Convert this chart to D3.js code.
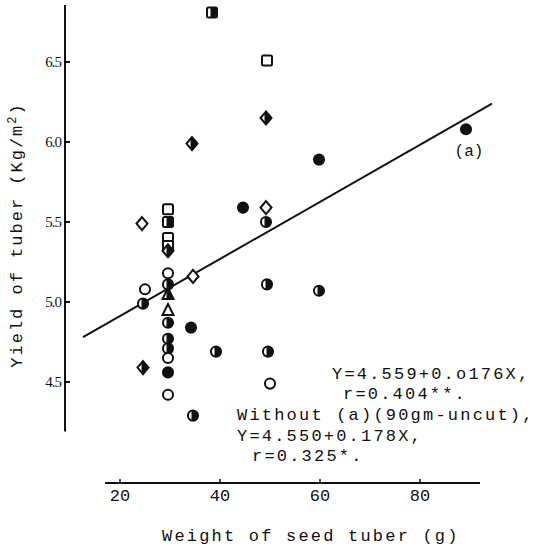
<!DOCTYPE html>
<html>
<head>
<meta charset="utf-8">
<script src="https://cdn.jsdelivr.net/npm/d3@7"></script>
<style>
  body { margin: 0; background: #fff; }
  svg { display: block; }
  .mono { font-family: "Liberation Mono", "DejaVu Sans Mono", monospace; fill: #111; }
  .serif { font-family: "Liberation Serif", "DejaVu Serif", serif; fill: #111; }
</style>
</head>
<body>
<div id="chart"></div>
<script>
// seed tuber weight (g), yield (kg/m2) and marker style of each plot
const seedWeight = [38.4, 49.4, 49.2, 34.4, 59.8, 44.6, 49.2, 49.2, 89.2, 59.8,
  24.4, 29.6, 29.6, 29.6, 29.6, 29.6, 29.6, 29.6, 29.6, 29.6,
  29.6, 34.2, 29.6, 29.6, 29.6, 29.6, 29.6, 25.0, 24.6, 24.6,
  34.6, 39.2, 34.6, 49.6, 50.0, 49.4];
const tuberYield = [6.81, 6.51, 6.15, 5.99, 5.89, 5.59, 5.59, 5.50, 6.08, 5.07,
  5.49, 5.58, 5.50, 5.40, 5.35, 5.32, 5.18, 5.11, 5.05, 4.95,
  4.87, 4.84, 4.77, 4.71, 4.65, 4.56, 4.42, 5.08, 4.99, 4.59,
  5.16, 4.69, 4.29, 4.69, 4.49, 5.11];
// fc filled circle, oc open circle, hc half circle, od/hd diamonds, os/hs squares, ot/ht triangles
const markerType = ["hs", "os", "hd", "hd", "fc", "fc", "od", "hc", "fc", "hc",
  "od", "os", "hs", "os", "os", "hd", "oc", "hc", "ht", "ot",
  "hc", "fc", "hc", "hc", "oc", "fc", "oc", "oc", "hc", "hd",
  "od", "hc", "hc", "hc", "oc", "hc"];

const xTicks = [20, 40, 60, 80];
const yTicks = [4.5, 5.0, 5.5, 6.0, 6.5];

// fitted line end points (weight, yield)
const fitX = [12.6, 94.4];
const fitY = [4.78, 6.24];

const notes = [
  "Y=4.559+0.o176X,",
  "r=0.404**.",
  "Without (a)(90gm-uncut),",
  "Y=4.550+0.178X,",
  "r=0.325*."
];

const width = 553, height = 548;
const svg = d3.select("#chart").append("svg")
  .attr("width", width)
  .attr("height", height);

const x = d3.scaleLinear().domain([20, 80]).range([120, 420]);
const y = d3.scaleLinear().domain([4.5, 6.5]).range([382, 62]);

// y axis (ticks point inward)
const yAxisX = 65;
svg.append("line")
  .attr("x1", yAxisX).attr("x2", yAxisX)
  .attr("y1", y(6.856)).attr("y2", y(4.19))
  .attr("stroke", "#111").attr("stroke-width", 2);
svg.selectAll(".ytick").data(yTicks).enter().append("line")
  .attr("x1", yAxisX).attr("x2", yAxisX + 5)
  .attr("y1", d => y(d)).attr("y2", d => y(d))
  .attr("stroke", "#111").attr("stroke-width", 2);
svg.selectAll(".ylab").data(yTicks).enter().append("text")
  .attr("class", "serif")
  .attr("x", yAxisX - 4).attr("y", d => y(d) + 5)
  .attr("text-anchor", "end")
  .attr("font-size", 15)
  .attr("letter-spacing", -1)
  .text(d => d.toFixed(1));

// x axis (ticks point upward)
const xAxisY = 483;
svg.append("line")
  .attr("x1", x(17)).attr("x2", x(92))
  .attr("y1", xAxisY).attr("y2", xAxisY)
  .attr("stroke", "#111").attr("stroke-width", 2);
svg.selectAll(".xtick").data(xTicks).enter().append("line")
  .attr("x1", d => x(d)).attr("x2", d => x(d))
  .attr("y1", xAxisY).attr("y2", xAxisY - 4)
  .attr("stroke", "#111").attr("stroke-width", 1.5);
svg.selectAll(".xlab").data(xTicks).enter().append("text")
  .attr("class", "mono")
  .attr("x", d => x(d)).attr("y", 501)
  .attr("text-anchor", "middle")
  .attr("font-size", 17)
  .text(d => d);

// axis titles
svg.append("text")
  .attr("class", "mono")
  .attr("x", 162).attr("y", 541)
  .attr("font-size", 17)
  .attr("letter-spacing", 2.2)
  .text("Weight of seed tuber (g)");

const yTitle = svg.append("text")
  .attr("class", "mono")
  .attr("transform", "translate(22,235) rotate(-90)")
  .attr("text-anchor", "middle")
  .attr("font-size", 17)
  .attr("letter-spacing", 2);
yTitle.append("tspan").text("Yield of tuber (Kg/m");
yTitle.append("tspan").attr("dy", -6).attr("font-size", 12).text("2");
yTitle.append("tspan").attr("dy", 6).text(")");

// regression line
svg.append("line")
  .attr("x1", x(fitX[0])).attr("y1", y(fitY[0]))
  .attr("x2", x(fitX[1])).attr("y2", y(fitY[1]))
  .attr("stroke", "#111").attr("stroke-width", 2);

// clip to keep the right part of a half filled marker
svg.append("defs").append("clipPath")
  .attr("id", "rightPart")
  .append("rect")
  .attr("x", -1.5).attr("y", -10).attr("width", 20).attr("height", 20);

function shapePath(kind) {
  if (kind === "c") return d3.symbol().type(d3.symbolCircle).size(80)();
  if (kind === "d") return "M0,-6.5L5.5,0L0,6.5L-5.5,0Z";
  if (kind === "s") return "M-5,-3.5Q-5,-5 -3.5,-5L3.5,-5Q5,-5 5,-3.5L5,3.5Q5,5 3.5,5L-3.5,5Q-5,5 -5,3.5Z";
  return "M0,-6L5.5,5L-5.5,5Z";
}

const points = seedWeight.map((w, i) => ({ w, yld: tuberYield[i], type: markerType[i] }));

const marks = svg.selectAll(".pt").data(points).enter().append("g")
  .attr("transform", d => `translate(${x(d.w)},${y(d.yld)})`);

marks.append("path")
  .attr("d", d => shapePath(d.type[1]))
  .attr("fill", d => d.type[0] === "f" ? "#111" : "#fff")
  .attr("stroke", "#111")
  .attr("stroke-width", 2);

marks.filter(d => d.type[0] === "h").append("path")
  .attr("d", d => shapePath(d.type[1]))
  .attr("clip-path", "url(#rightPart)")
  .attr("fill", "#111");

// label for the outlier point (a)
const outlier = points[8];
svg.append("text")
  .attr("class", "mono")
  .attr("x", x(outlier.w) + 3).attr("y", y(outlier.yld) + 27)
  .attr("text-anchor", "middle")
  .attr("font-size", 16)
  .text("(a)");

// regression notes
const noteX = [332, 343, 237, 237, 252];
const noteY = [379, 399, 420, 441, 461];
svg.selectAll(".note").data(notes).enter().append("text")
  .attr("class", "mono")
  .attr("x", (d, i) => noteX[i]).attr("y", (d, i) => noteY[i])
  .attr("font-size", 17)
  .attr("letter-spacing", 2.2)
  .text(d => d);
</script>
</body>
</html>
